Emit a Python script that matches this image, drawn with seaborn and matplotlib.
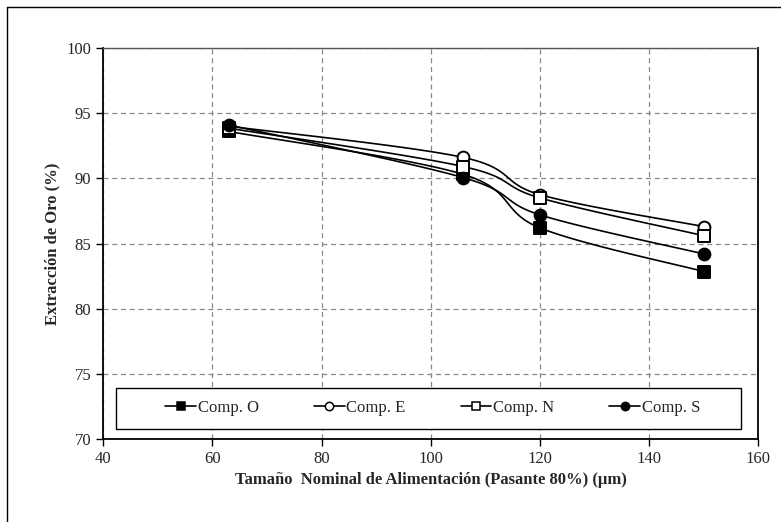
import numpy as np
import pandas as pd
import matplotlib
matplotlib.use("Agg")
import matplotlib.pyplot as plt
from matplotlib.lines import Line2D
from matplotlib.patches import Rectangle
import seaborn as sns

# Data
tamano = [63, 106, 120, 150]
comp_o = [93.6, 90.3, 86.2, 82.85]
comp_e = [94.0, 91.6, 88.75, 86.3]
comp_n = [93.85, 90.9, 88.5, 85.6]
comp_s = [94.1, 90.05, 87.2, 84.2]

series = {
    "Comp. O": (comp_o, "s", "black"),
    "Comp. E": (comp_e, "o", "white"),
    "Comp. N": (comp_n, "s", "white"),
    "Comp. S": (comp_s, "o", "black"),
}


def smooth_curve(x, y, sx=5.458, sy=13.04, n=40):
    # Excel-style smoothed line: cubic Bezier through the points
    p = np.column_stack([np.asarray(x, float) * sx, np.asarray(y, float) * sy])
    out = []
    for i in range(len(p) - 1):
        p0 = p[i - 1] if i > 0 else p[i]
        p1, p2 = p[i], p[i + 1]
        p3 = p[i + 2] if i + 2 < len(p) else p[i + 1]
        c1 = p1 + (p2 - p0) / 6
        c2 = p2 - (p3 - p1) / 6
        t = np.linspace(0, 1, n)[:, None]
        seg = (1 - t) ** 3 * p1 + 3 * (1 - t) ** 2 * t * c1 + 3 * (1 - t) * t ** 2 * c2 + t ** 3 * p2
        out.append(seg if i == 0 else seg[1:])
    out = np.vstack(out)
    return out[:, 0] / sx, out[:, 1] / sy


def main():
    sns.set_theme(style="white")
    plt.rcParams["font.family"] = ["Liberation Serif", "DejaVu Serif"]

    fig = plt.figure(figsize=(7.81, 5.22), dpi=100)
    ax = fig.add_axes([0.132, 0.159, 0.839, 0.749])

    handles = []
    for name, (vals, mk, fc) in series.items():
        cx, cy = smooth_curve(tamano, vals)
        sns.lineplot(x=cx, y=cy, sort=False, estimator=None, color="black",
                     linewidth=1.2, ax=ax, zorder=3)
        sns.scatterplot(x=tamano, y=vals, marker=mk, s=72, color=fc,
                        edgecolor="black", linewidth=1.4, ax=ax, zorder=4)
        handles.append(Line2D([], [], color="black", lw=1.2, marker=mk,
                              markersize=6, markerfacecolor=fc,
                              markeredgecolor="black", markeredgewidth=1.1,
                              label=name))

    ax.set_xlim(40, 160)
    ax.set_ylim(70, 100)
    ax.set_xticks(np.arange(40, 161, 20))
    ax.set_yticks(np.arange(70, 101, 5))
    ax.grid(True, color="#888888", linestyle=(0, (4, 3)), linewidth=0.9)

    for side in ["left", "bottom", "right"]:
        ax.spines[side].set_color("black")
        ax.spines[side].set_linewidth(1.3)
    ax.spines["top"].set_color("#555555")
    ax.spines["top"].set_linewidth(1.0)

    ax.tick_params(axis="both", which="major", direction="out", length=5,
                   width=1, color="black", labelsize=12, left=True, bottom=True)

    ax.set_xlabel("Tamaño  Nominal de Alimentación (Pasante 80%) (µm)",
                  fontsize=12, fontweight="bold", labelpad=4)
    ax.set_ylabel("Extracción de Oro (%)", fontsize=12, fontweight="bold",
                  labelpad=4)

    # legend box (drawn separately so the entries can sit centred in it)
    box = Rectangle((0.02, 0.026), 0.953, 0.105, transform=ax.transAxes,
                    facecolor="white", edgecolor="black", linewidth=1.0,
                    zorder=5)
    ax.add_patch(box)
    leg = ax.legend(handles=handles, loc="center", ncol=4,
                    bbox_to_anchor=(0.503, 0.079), frameon=False, fontsize=12,
                    handlelength=1.85, handletextpad=0.1, columnspacing=3.3,
                    borderaxespad=0)
    leg.set_zorder(6)

    # outer chart border (left and top visible in reference)
    fig.add_artist(Line2D([0.009, 0.009], [0.0, 0.987], color="black", lw=1.0,
                          transform=fig.transFigure))
    fig.add_artist(Line2D([0.009, 1.0], [0.987, 0.987], color="black", lw=1.0,
                          transform=fig.transFigure))

    fig.savefig("out.png", dpi=100)
    plt.close(fig)


if __name__ == "__main__":
    main()
